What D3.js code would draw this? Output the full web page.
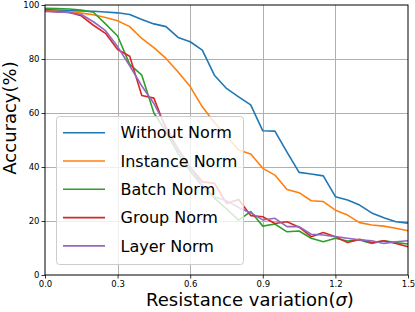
<!DOCTYPE html>
<html>
<head>
<meta charset="utf-8">
<script src="https://cdn.jsdelivr.net/npm/d3@7"></script>
<style>
  body { margin: 0; background: #fff; }
  svg { display: block; font-family: "DejaVu Sans", sans-serif; }
</style>
</head>
<body>
<svg id="chart" width="415" height="312"></svg>
<script>
// resistance variation (sigma) sampled every 0.05
const sigma = [0, 0.05, 0.1, 0.15, 0.2, 0.25, 0.3, 0.35, 0.4, 0.45, 0.5, 0.55, 0.6, 0.65, 0.7, 0.75,
  0.8, 0.85, 0.9, 0.95, 1.0, 1.05, 1.1, 1.15, 1.2, 1.25, 1.3, 1.35, 1.4, 1.45, 1.5];

const withoutNorm = [98.3, 98.1, 97.9, 97.8, 97.7, 97.4, 97.1, 96.5, 94.6, 93.0, 92.0, 88.0, 86.4, 83.3, 74.0, 69.1,
  66.0, 63.0, 53.4, 53.3, 45.5, 38.0, 37.4, 36.7, 29.0, 27.8, 25.9, 23.0, 21.2, 19.7, 19.2];
const instanceNorm = [97.8, 97.7, 97.4, 97.0, 96.4, 95.4, 94.2, 92.0, 87.6, 84.2, 80.2, 75.2, 69.8, 62.3, 56.5, 51.5,
  46.3, 44.8, 39.5, 37.0, 31.7, 30.5, 27.5, 27.2, 24.0, 22.2, 19.4, 18.5, 18.1, 17.3, 16.4];
const batchNorm = [98.8, 98.7, 98.5, 98.1, 97.3, 93.0, 88.5, 78.0, 74.0, 60.0, 53.0, 45.0, 38.5, 33.0, 28.5, 24.5,
  20.3, 23.5, 18.1, 18.9, 16.0, 16.3, 13.6, 12.3, 13.6, 12.6, 13.0, 11.7, 12.7, 12.0, 11.5];
const groupNorm = [97.8, 97.5, 97.2, 96.0, 92.5, 89.5, 83.5, 81.0, 66.5, 65.5, 54.0, 46.5, 40.0, 34.5, 34.0, 26.5,
  28.0, 22.0, 21.6, 19.1, 19.7, 17.7, 14.2, 15.7, 14.2, 12.0, 13.2, 12.0, 12.7, 11.7, 10.5];
const layerNorm = [97.6, 97.4, 97.2, 96.5, 93.8, 90.5, 84.6, 77.5, 70.0, 63.5, 55.0, 46.5, 40.0, 33.0, 29.0, 27.5,
  25.0, 23.0, 20.4, 21.0, 17.9, 17.9, 15.1, 14.8, 14.2, 13.6, 13.0, 12.7, 11.7, 12.3, 12.7];

const seriesNames = ["Without Norm", "Instance Norm", "Batch Norm", "Group Norm", "Layer Norm"];
const xTicks = [0, 0.3, 0.6, 0.9, 1.2, 1.5];
const yTicks = [0, 20, 40, 60, 80, 100];

const series = [withoutNorm, instanceNorm, batchNorm, groupNorm, layerNorm].map((vals, i) => ({
  name: seriesNames[i],
  values: vals.map((v, j) => [sigma[j], v])
}));

const colors = ["#1f77b4", "#ff7f0e", "#2ca02c", "#d62728", "#9467bd"];

const svg = d3.select("#chart");
const plotL = 45, plotR = 408, plotT = 5, plotB = 275;

const x = d3.scaleLinear().domain([0, 1.5]).range([plotL, plotR]);
const y = d3.scaleLinear().domain([0, 100]).range([plotB, plotT]);

// grid
svg.append("g")
  .selectAll("line")
  .data(xTicks.slice(1, -1))
  .enter()
  .append("line")
  .attr("x1", (d) => Math.round(x(d)) + 0.5)
  .attr("x2", (d) => Math.round(x(d)) + 0.5)
  .attr("y1", plotT)
  .attr("y2", plotB)
  .attr("stroke", "#b0b0b0")
  .attr("stroke-width", 1);

svg.append("g")
  .selectAll("line")
  .data(yTicks.slice(1, -1))
  .enter()
  .append("line")
  .attr("x1", plotL)
  .attr("x2", plotR)
  .attr("y1", (d) => Math.round(y(d)) + 0.5)
  .attr("y2", (d) => Math.round(y(d)) + 0.5)
  .attr("stroke", "#b0b0b0")
  .attr("stroke-width", 1);

// lines
const line = d3.line()
  .x((d) => x(d[0]))
  .y((d) => y(d[1]));

svg.append("g")
  .selectAll("path")
  .data(series)
  .enter()
  .append("path")
  .attr("d", (d) => line(d.values))
  .attr("fill", "none")
  .attr("stroke", (d, i) => colors[i])
  .attr("stroke-width", 1.6)
  .attr("stroke-linejoin", "round");

// axes
const xAxis = svg.append("g")
  .attr("transform", `translate(0,${plotB})`)
  .call(d3.axisBottom(x).tickValues(xTicks).tickFormat(d3.format(".1f")).tickSize(3.5).tickSizeOuter(0));
const yAxis = svg.append("g")
  .attr("transform", `translate(${plotL},0)`)
  .call(d3.axisLeft(y).tickValues(yTicks).tickFormat(d3.format("d")).tickSize(3.5).tickSizeOuter(0));

[xAxis, yAxis].forEach((ax) => {
  ax.select(".domain").remove();
  ax.selectAll("text")
    .attr("font-family", "DejaVu Sans")
    .attr("font-size", 8.5)
    .attr("fill", "#000");
  ax.selectAll("line").attr("stroke", "#000").attr("stroke-width", 0.8);
});
xAxis.selectAll("text").attr("dy", "0.71em").attr("y", 6);
yAxis.selectAll("text").attr("x", -5.5);

// frame
svg.append("rect")
  .attr("x", plotL)
  .attr("y", plotT)
  .attr("width", plotR - plotL)
  .attr("height", plotB - plotT)
  .attr("fill", "none")
  .attr("stroke", "#000")
  .attr("stroke-width", 1);

// axis labels
svg.append("text")
  .attr("transform", "translate(16,118) rotate(-90)")
  .attr("text-anchor", "middle")
  .attr("font-size", 18)
  .text("Accuracy(%)");

const xl = svg.append("text")
  .attr("x", 250)
  .attr("y", 306)
  .attr("text-anchor", "middle")
  .attr("font-size", 18);
xl.append("tspan").text("Resistance variation(");
xl.append("tspan").attr("font-style", "italic").text("σ");
xl.append("tspan").text(")");

// legend
const legend = svg.append("g");
legend.append("rect")
  .attr("x", 56.5)
  .attr("y", 116.5)
  .attr("width", 187)
  .attr("height", 148)
  .attr("rx", 3)
  .attr("fill", "#fff")
  .attr("fill-opacity", 0.8)
  .attr("stroke", "#cccccc")
  .attr("stroke-width", 1);

const rowH = 28.3;
const items = legend.selectAll("g.item")
  .data(series)
  .enter()
  .append("g")
  .attr("class", "item")
  .attr("transform", (d, i) => `translate(0,${132.7 + i * rowH})`);
items.append("line")
  .attr("x1", 63)
  .attr("x2", 105)
  .attr("stroke", (d, i) => colors[i])
  .attr("stroke-width", 1.6);
items.append("text")
  .attr("x", 120.5)
  .attr("dy", "0.36em")
  .attr("font-size", 16)
  .text((d) => d.name);
</script>
</body>
</html>
